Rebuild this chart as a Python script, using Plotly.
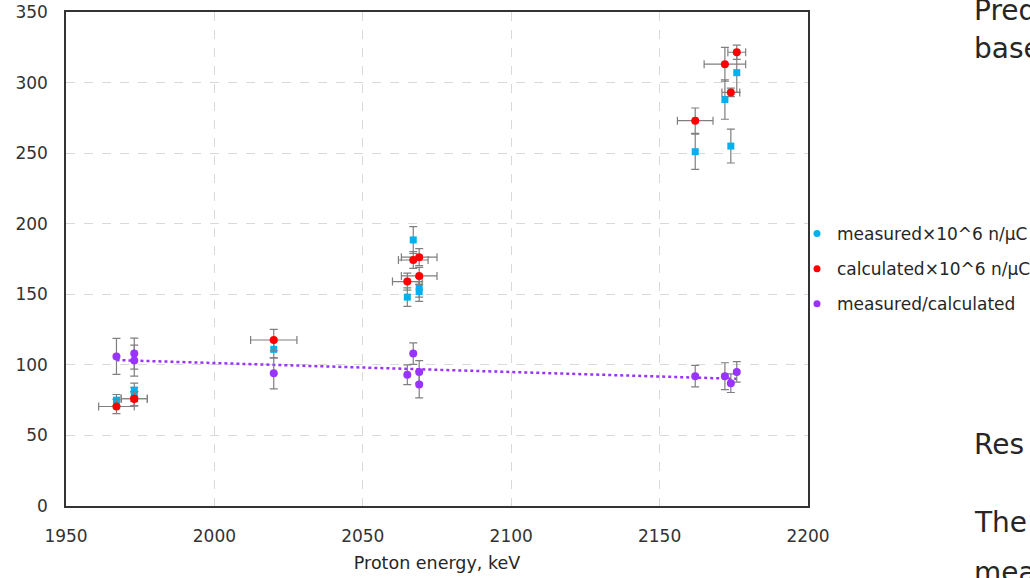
import numpy as np
import plotly.graph_objects as go

energy = [1967, 1973, 1973, 2020, 2065, 2067, 2069, 2069, 2162, 2172, 2174, 2176]
measured = [75, 82, 79, 111, 148, 188.5, 155, 152, 251, 288, 255, 307]
measured_err = [4, 5, 5, 6, 6.6, 9.5, 7, 7, 12.5, 14, 12, 14]
calculated = [70.5, 76, 76, 117.6, 159, 174.3, 163, 176.3, 273, 313, 293, 321.5]
calc_yerr = [5, 5, 5, 7.6, 6, 6, 6, 6, 9, 12, 3, 5]
calc_xerr = [6, 4.4, 4.4, 7.8, 5, 5, 6, 6, 6, 7, 3, 3]
ratio = [106, 108, 103, 94, 93, 108, 95, 86, 92, 92, 87, 95]
ratio_err = [12.7, 11, 11, 11, 7, 7.6, 8, 9.4, 7.6, 9.5, 6.6, 7.3]

names = ["measured×10^6 n/µC", "calculated×10^6 n/µC", "measured/calculated"]
colors = ["#00B0F0", "#FF0000", "#9933FF"]
x_ticks = [1950, 2000, 2050, 2100, 2150, 2200]
y_ticks = [0, 50, 100, 150, 200, 250, 300, 350]

FONT = "DejaVu Sans"
ERR = "#7f7f7f"

fig = go.Figure()

# trendline of ratio
coef = np.polyfit(energy, ratio, 1)
tx = np.array([min(energy), max(energy)])
fig.add_trace(go.Scatter(x=tx, y=np.polyval(coef, tx), mode="lines",
                         line=dict(color=colors[2], width=2.5, dash="dot"),
                         showlegend=False, hoverinfo="skip"))

fig.add_trace(go.Scatter(x=energy, y=measured, mode="markers",
                         marker=dict(symbol="square", size=7, color=colors[0]),
                         error_y=dict(type="data", array=measured_err, color=ERR, thickness=1.2, width=4),
                         showlegend=False))
fig.add_trace(go.Scatter(x=energy, y=calculated, mode="markers",
                         marker=dict(symbol="circle", size=8, color=colors[1]),
                         error_y=dict(type="data", array=calc_yerr, color=ERR, thickness=1.2, width=4),
                         error_x=dict(type="data", array=calc_xerr, color=ERR, thickness=1.2, width=4),
                         showlegend=False))
fig.add_trace(go.Scatter(x=energy, y=ratio, mode="markers",
                         marker=dict(symbol="circle", size=8, color=colors[2]),
                         error_y=dict(type="data", array=ratio_err, color=ERR, thickness=1.2, width=4),
                         showlegend=False))

# legend entries
for i, (n, c) in enumerate(zip(names, colors)):
    fig.add_trace(go.Scatter(x=[None], y=[None], mode="markers", name=n,
                             marker=dict(symbol="circle", size=7, color=c),
                             legendgroup=f"g{i}", showlegend=True))

axis_common = dict(showline=True, mirror=True, linecolor="#333333", linewidth=1.5,
                   showgrid=True, gridcolor="#d9d9d9", griddash="dash", gridwidth=1,
                   zeroline=False, ticks="", automargin=False,
                   tickfont=dict(family=FONT, size=17, color="#333333"))

fig.update_layout(
    width=1030, height=578,
    margin=dict(l=66, r=222, t=12, b=72, autoexpand=False),
    paper_bgcolor="white", plot_bgcolor="white",
    font=dict(family=FONT, color="#262626"),
    xaxis=dict(range=[1950, 2200], tickvals=x_ticks, ticktext=[str(v) for v in x_ticks],
               ticklabelstandoff=14,
               title=dict(text="Proton energy, keV", font=dict(family=FONT, size=17.5, color="#262626"), standoff=12),
               **axis_common),
    yaxis=dict(range=[0, 350], tickvals=y_ticks, ticktext=[str(v) for v in y_ticks],
               ticklabelstandoff=13, **axis_common),
    legend=dict(xref="container", yref="container", x=797 / 1030, xanchor="left",
                y=(578 - 269) / 578, yanchor="middle", bgcolor="rgba(0,0,0,0)",
                font=dict(family=FONT, size=17, color="#262626"), tracegroupgap=10),
    showlegend=True,
)

slide_text = [("Pred", 10), ("base", 48), ("Res", 444), ("The", 522), ("mea", 572)]
for txt, py in slide_text:
    fig.add_annotation(text=txt, xref="paper", yref="paper",
                       x=(972 - 66) / 742, y=(506 - py) / 494,
                       xanchor="left", yanchor="middle", showarrow=False,
                       font=dict(family=FONT, size=28, color="#262626"))

fig.write_html("out.html")
